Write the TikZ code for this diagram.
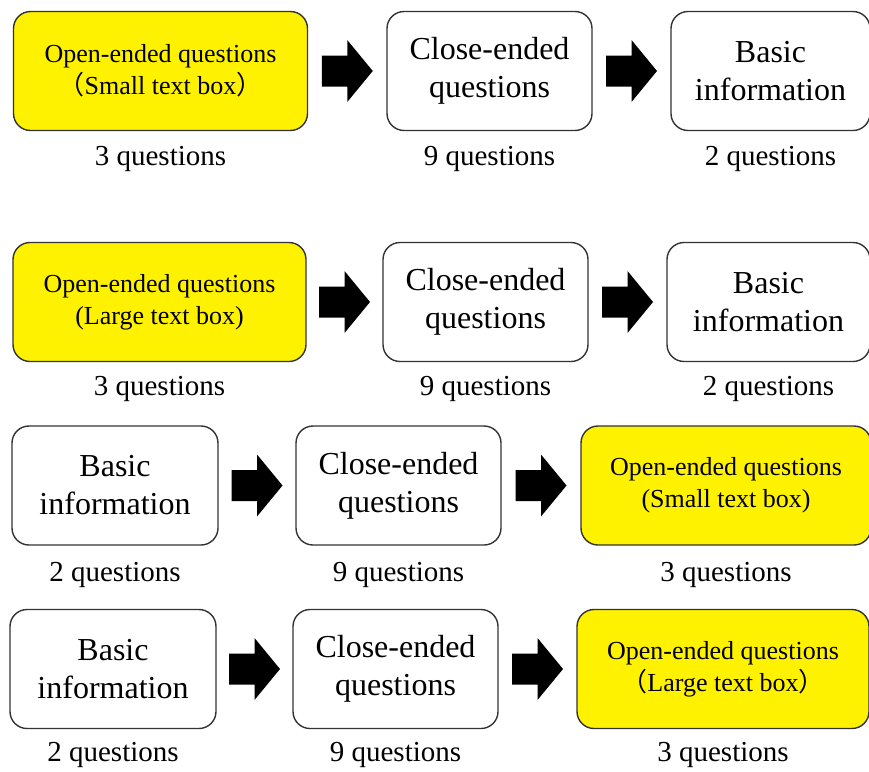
\documentclass[tikz,border=0pt]{standalone}
\usepackage{fontspec}
\setmainfont{Liberation Serif}
\newfontfamily\cjk{Noto Sans CJK JP}
\usepackage{tikz}
\usetikzlibrary{calc}

\begin{document}
\begin{tikzpicture}[x=1pt, y=-1pt,
    box/.style={draw=black!80, line width=1.4pt, rounded corners=17pt,
        minimum height=119pt, inner sep=0pt, align=center,
        font=\fontsize{32}{38}\selectfont},
    openbox/.style={box, fill=yellow, font=\fontsize{26}{32}\selectfont},
    qlabel/.style={inner sep=0pt, font=\fontsize{29}{34}\selectfont},
    pics/fatarrow/.style={code={
        \fill (-25.5pt,-15.5pt) -- (0pt,-15.5pt) -- (0pt,-31pt) -- (25.5pt,0pt)
            -- (0pt,31pt) -- (0pt,15.5pt) -- (-25.5pt,15.5pt) -- cycle;}}]
    \useasboundingbox (0,0) rectangle (869,771);
    \clip (0,0) rectangle (869,771);

    % Order 1: open (small) -> close -> basic
    \node[openbox, minimum width=294pt] (r1a) at (160.5,71) {Open-ended questions\\{\cjk （}Small text box{\cjk ）}};
    \node[box, minimum width=205pt] (r1b) at (489.5,71) {Close-ended\\questions};
    \node[box, minimum width=199pt] (r1c) at (770.5,71) {Basic\\information};
    \node[qlabel] (r1aq) at ([yshift=-28pt]r1a.south) {3 questions};
    \node[qlabel] (r1bq) at ([yshift=-28pt]r1b.south) {9 questions};
    \node[qlabel] (r1cq) at ([yshift=-28pt]r1c.south) {2 questions};
    \pic at ($(r1a.east)!.5!(r1b.west)$) {fatarrow};
    \pic at ($(r1b.east)!.5!(r1c.west)$) {fatarrow};

    % Order 2: open (large) -> close -> basic
    \node[openbox, minimum width=293pt] (r2a) at (159.5,302) {Open-ended questions\\(Large text box)};
    \node[box, minimum width=205pt] (r2b) at (485.5,302) {Close-ended\\questions};
    \node[box, minimum width=203pt] (r2c) at (768.5,302) {Basic\\information};
    \node[qlabel] (r2aq) at ([yshift=-27pt]r2a.south) {3 questions};
    \node[qlabel] (r2bq) at ([yshift=-27pt]r2b.south) {9 questions};
    \node[qlabel] (r2cq) at ([yshift=-27pt]r2c.south) {2 questions};
    \pic at ($(r2a.east)!.5!(r2b.west)$) {fatarrow};
    \pic at ($(r2b.east)!.5!(r2c.west)$) {fatarrow};

    % Order 3: basic -> close -> open (small)
    \node[box, minimum width=206pt] (r3a) at (115,485.5) {Basic\\information};
    \node[box, minimum width=205pt] (r3b) at (398.5,485.5) {Close-ended\\questions};
    \node[openbox, minimum width=290pt] (r3c) at (726,485.5) {Open-ended questions\\(Small text box)};
    \node[qlabel] (r3aq) at ([yshift=-29pt]r3a.south) {2 questions};
    \node[qlabel] (r3bq) at ([yshift=-29pt]r3b.south) {9 questions};
    \node[qlabel] (r3cq) at ([yshift=-29pt]r3c.south) {3 questions};
    \pic at ($(r3a.east)!.5!(r3b.west)$) {fatarrow};
    \pic at ($(r3b.east)!.5!(r3c.west)$) {fatarrow};

    % Order 4: basic -> close -> open (large)
    \node[box, minimum width=206pt] (r4a) at (113,669) {Basic\\information};
    \node[box, minimum width=205pt] (r4b) at (395.5,669) {Close-ended\\questions};
    \node[openbox, minimum width=292pt] (r4c) at (723,669) {Open-ended questions\\{\cjk （}Large text box{\cjk ）}};
    \node[qlabel] (r4aq) at ([yshift=-26pt]r4a.south) {2 questions};
    \node[qlabel] (r4bq) at ([yshift=-26pt]r4b.south) {9 questions};
    \node[qlabel] (r4cq) at ([yshift=-26pt]r4c.south) {3 questions};
    \pic at ($(r4a.east)!.5!(r4b.west)$) {fatarrow};
    \pic at ($(r4b.east)!.5!(r4c.west)$) {fatarrow};
\end{tikzpicture}
\end{document}
